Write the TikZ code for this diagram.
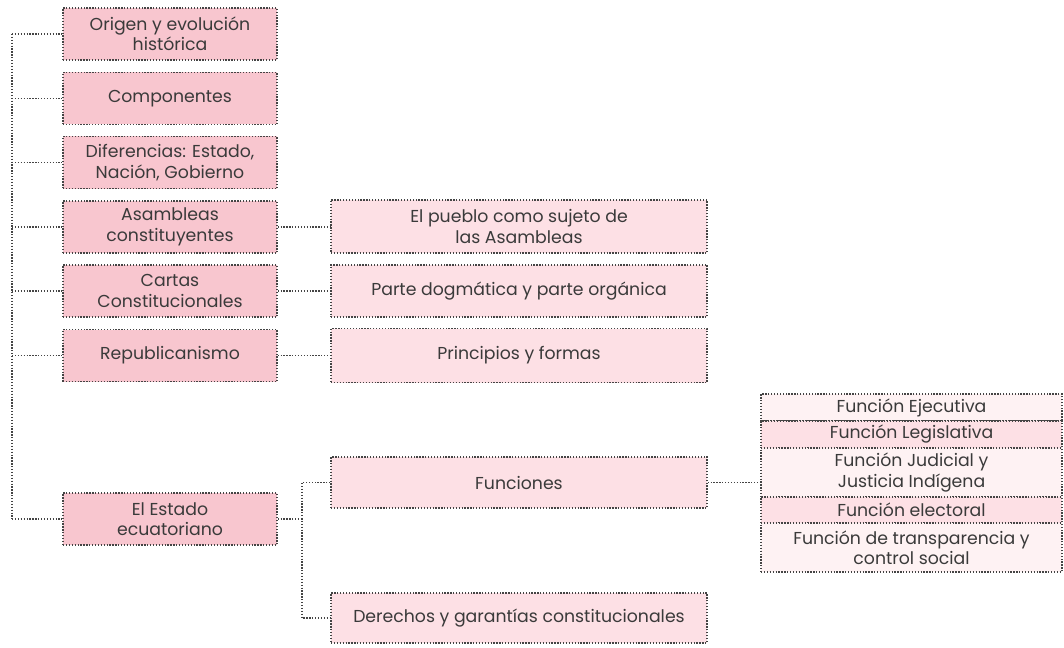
\documentclass[tikz,border=0pt]{standalone}
\usepackage{fontspec}
\setmainfont{Poppins}
\definecolor{pinkA}{HTML}{F8C6CF}
\definecolor{pinkB}{HTML}{FDE0E5}
\definecolor{pinkC}{HTML}{FEF2F3}
\definecolor{lineC}{HTML}{444444}
\definecolor{txt}{HTML}{3A3A3A}
\tikzset{
  dots/.style={draw=lineC, line width=1.3pt, dash pattern=on 1.3pt off 1.6pt},
  box/.style={dots, rectangle, inner sep=0pt, align=center, text=txt,
     font=\fontsize{17.3}{20.5}\selectfont},
  lbox/.style={box, fill=pinkA, minimum width=214pt, minimum height=52pt},
  mbox/.style={box, fill=pinkB, minimum width=376pt, minimum height=52pt},
  rbox/.style={box, minimum width=301pt},
  conn/.style={dots}
}
\begin{document}
\begin{tikzpicture}[x=1pt,y=-1pt]
\useasboundingbox (0,0) rectangle (1064,647);
% left column
\node[lbox] (n1) at (170,34) {Origen y evolución\\histórica};
\node[lbox] (n2) at (170,98.5) {Componentes};
\node[lbox] (n3) at (170,162.5) {Diferencias: Estado,\\Nación, Gobierno};
\node[lbox] (n4) at (170,227) {Asambleas\\constituyentes};
\node[lbox] (n5) at (170,291) {Cartas\\Constitucionales};
\node[lbox] (n6) at (170,355.5) {Republicanismo};
\node[lbox] (n7) at (170,519) {El Estado\\ecuatoriano};
% middle column
\node[mbox, minimum height=53pt] (m4) at (519,226.5) {El pueblo como sujeto de\\las Asambleas};
\node[mbox] (m5) at (519,291) {Parte dogmática y parte orgánica};
\node[mbox, minimum height=54pt] (m6) at (519,355.5) {Principios y formas};
\node[mbox, minimum height=51pt] (f) at (519,482.5) {Funciones};
\node[mbox, minimum height=50pt] (d) at (519,618) {Derechos y garantías constitucionales};
% right group
\node[rbox, fill=pinkC, minimum height=27pt] (r1) at (911.5,407.5) {Función Ejecutiva};
\node[rbox, fill=pinkB, minimum height=27pt] (r2) at (911.5,434.5) {Función Legislativa};
\node[rbox, fill=pinkC, minimum height=49pt] (r3) at (911.5,472.5) {Función Judicial y\\Justicia Indígena};
\node[rbox, fill=pinkB, minimum height=26pt] (r4) at (911.5,510) {Función electoral};
\node[rbox, fill=pinkC, minimum height=49pt] (r5) at (911.5,547.5) {Función de transparencia y\\control social};
% trunk
\coordinate (t1) at (12,34);
\coordinate (t7) at (12,519);
\draw[conn] (t1) -- (t7);
\draw[conn] (t1) -- (n1.west);
\foreach \n in {n2,n3,n4,n5,n6,n7} \draw[conn] (\n.west -| t1) -- (\n.west);
% left to middle
\draw[conn] (n4.east) -- (n4.east -| m4.west);
\draw[conn] (n5.east) -- (m5.west);
\draw[conn] (n6.east) -- (n6.east -| m6.west);
% Estado to Funciones / Derechos
\coordinate (b) at (302,519);
\draw[conn] (n7.east) -- (b);
\draw[conn] (f.west) -| (b) |- (d.west);
% Funciones to right group
\draw[conn] (f.east) -- (f.east -| r3.west);
\end{tikzpicture}
\end{document}
